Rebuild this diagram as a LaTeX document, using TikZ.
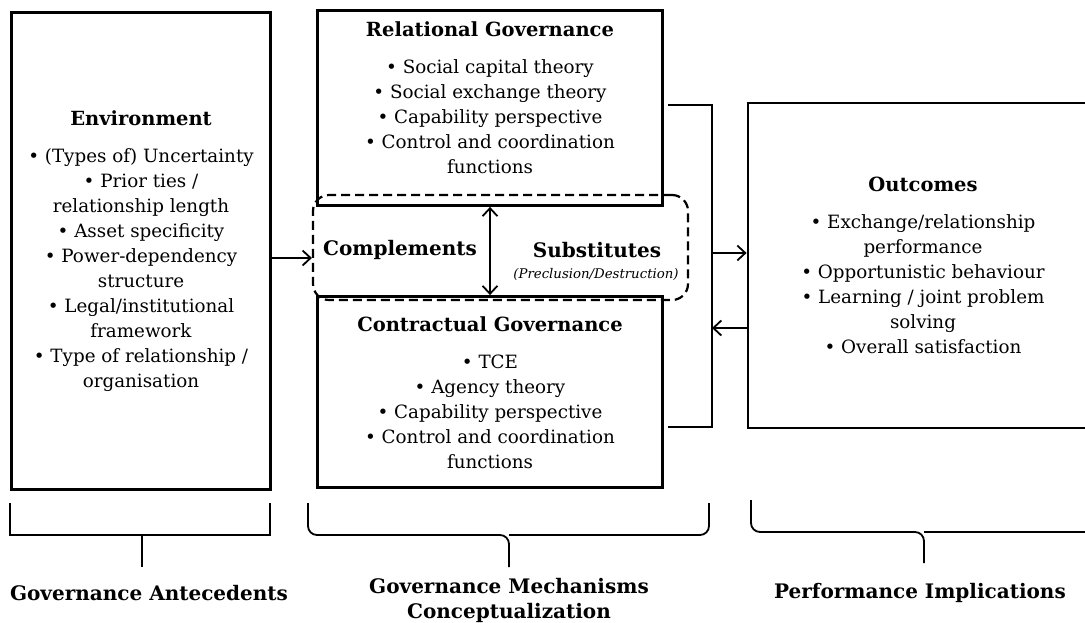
\documentclass[tikz,border=0pt]{standalone}
\usepackage{fontspec}
\setmainfont{DejaVu Serif}
\usetikzlibrary{arrows.meta}
\newcommand{\hdfont}{\fontsize{19.5}{25}\selectfont\bfseries}

\begin{document}
\begin{tikzpicture}[x=1pt, y=-1pt,
    box/.style={draw, line width=2.8pt, inner sep=0pt},
    txt/.style={align=center, font=\fontsize{18.3}{25}\selectfont},
    lbl/.style={align=center, font=\fontsize{20}{25}\selectfont\bfseries},
    brk/.style={line width=1.8pt},
    arr/.style={line width=1.8pt, -{Straight Barb[length=8pt,width=15pt]}},
    dbl/.style={line width=1.8pt, {Straight Barb[length=8pt,width=15pt]}-{Straight Barb[length=8pt,width=15pt]}}]

    % page size
    \useasboundingbox (0,0) rectangle (1085,623);

    % the four boxes
    \node[box, minimum width=259pt, minimum height=477pt] (env) at (141,251) {};
    \node[box, minimum width=345pt, minimum height=195pt] (rel) at (490,108) {};
    \node[box, minimum width=345pt, minimum height=191pt] (con) at (490,392) {};
    \node[box, minimum width=352pt, minimum height=325pt] (out) at (924,265.5) {};

    % dashed frame between the two governance boxes
    \node[draw, dashed, line width=2.2pt, dash pattern=on 9pt off 5pt, rounded corners=16pt,
          minimum width=375pt, minimum height=105pt] (mech) at (500.5,247.5) {};

    % box texts
    \node[txt] (envtxt) at (141,251) {{\hdfont Environment}\\[12pt]
        \textbullet\ (Types of) Uncertainty\\ \textbullet\ Prior ties /\\ relationship length\\
        \textbullet\ Asset specificity\\ \textbullet\ Power-dependency\\ structure\\
        \textbullet\ Legal/institutional\\ framework\\ \textbullet\ Type of relationship /\\ organisation};
    \node[txt] (reltxt) at (490,98) {{\hdfont Relational Governance}\\[12pt]
        \textbullet\ Social capital theory\\ \textbullet\ Social exchange theory\\
        \textbullet\ Capability perspective\\ \textbullet\ Control and coordination\\ functions};
    \node[txt] (contxt) at (490,393) {{\hdfont Contractual Governance}\\[12pt]
        \textbullet\ TCE\\ \textbullet\ Agency theory\\
        \textbullet\ Capability perspective\\ \textbullet\ Control and coordination\\ functions};
    \node[txt] (outtxt) at (923,265) {{\hdfont Outcomes}\\[12pt]
        \textbullet\ Exchange/relationship\\ performance\\ \textbullet\ Opportunistic behaviour\\
        \textbullet\ Learning / joint problem\\ solving\\ \textbullet\ Overall satisfaction};

    % complements / substitutes
    \node[lbl] (comp) at (400,250) {Complements};
    \node[lbl] (subs) at (597,250) {Substitutes};
    \node[font=\fontsize{13.3}{15}\selectfont\itshape] (presc) at (596,274) {(Preclusion/Destruction)};
    \draw[dbl] (rel.south) -- (con.north);

    % environment to mechanisms
    \coordinate (a1) at (290,258);
    \draw[arr] (env.east |- a1) -- (mech.west |- a1);

    % bracket and arrows to outcomes
    \draw[brk] (668,105) -- (712,105) -- (712,427) -- (668,427);
    \coordinate (b1) at (712,253);
    \coordinate (b2) at (712,328);
    \draw[arr] (b1) -- (b1 -| out.west);
    \draw[arr] (b2 -| out.west) -- (b2);

    % bottom brackets
    \draw[brk] (10,503) -- (10,535) -- (270,535) -- (270,503);
    \draw[brk] (142,535) -- (142,567);
    \draw[brk, rounded corners=9pt] (308,503) |- (509,535) -- (509,567);
    \draw[brk, rounded corners=9pt] (709,503) |- (509,535);
    \draw[brk, rounded corners=9pt] (751,500) |- (924,532) -- (924,563);
    \draw[brk, rounded corners=9pt] (1100,500) |- (924,532);

    % bottom labels
    \node[lbl] (ante) at (149,593) {Governance Antecedents};
    \node[lbl] (conc) at (509,600) {Governance Mechanisms\\ Conceptualization};
    \node[lbl] (perf) at (920,593) {Performance Implications};

\end{tikzpicture}
\end{document}
